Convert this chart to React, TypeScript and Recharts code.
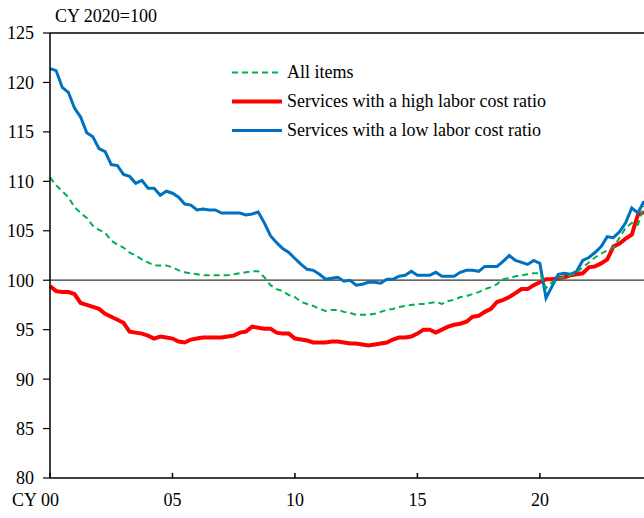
import { LineChart, Line, XAxis, YAxis, ReferenceLine, Legend } from 'recharts';

// quarterly, 2000Q1 .. 2024Q2, CY 2020 = 100
const allItems = [
  110.4, 109.6, 109.0, 108.4, 107.4, 106.8, 106.3, 105.5, 105.1, 104.8,
  104.0, 103.6, 103.3, 102.8, 102.5, 102.1, 101.8, 101.5, 101.5, 101.5,
  101.3, 101.0, 100.8, 100.7, 100.6, 100.5, 100.5, 100.5, 100.5, 100.5,
  100.6, 100.7, 100.8, 100.9, 100.9, 100.3, 99.5, 99.1, 98.9, 98.5,
  98.3, 97.8, 97.6, 97.4, 97.1, 96.9, 97.0, 97.0, 96.8, 96.7,
  96.5, 96.5, 96.5, 96.6, 96.8, 97.0, 97.1, 97.3, 97.4, 97.5,
  97.6, 97.6, 97.7, 97.8, 97.6, 97.9, 98.0, 98.3, 98.4, 98.6,
  98.8, 99.1, 99.3, 99.6, 100.1, 100.2, 100.4, 100.5, 100.6, 100.7,
  100.7, 99.2, 99.8, 100.2, 100.3, 100.5, 100.8, 101.3, 101.8, 102.3,
  102.7, 103.0, 103.3, 104.3, 105.3, 105.8, 105.6, 107.5,
];

const highLabor = [
  99.4, 98.9, 98.8, 98.8, 98.6, 97.7, 97.5, 97.3, 97.1, 96.6,
  96.3, 96.0, 95.7, 94.8, 94.7, 94.6, 94.4, 94.1, 94.3, 94.2,
  94.1, 93.8, 93.7, 94.0, 94.1, 94.2, 94.2, 94.2, 94.2, 94.3,
  94.4, 94.7, 94.8, 95.3, 95.2, 95.1, 95.1, 94.7, 94.6, 94.6,
  94.1, 94.0, 93.9, 93.7, 93.7, 93.7, 93.8, 93.8, 93.7, 93.6,
  93.6, 93.5, 93.4, 93.5, 93.6, 93.7, 94.0, 94.2, 94.2, 94.3,
  94.6, 95.0, 95.0, 94.7, 95.0, 95.3, 95.5, 95.6, 95.8, 96.3,
  96.4, 96.8, 97.1, 97.8, 98.0, 98.3, 98.7, 99.1, 99.1, 99.5,
  99.8, 100.1, 100.1, 100.2, 100.3, 100.5, 100.6, 100.7, 101.3, 101.4,
  101.7, 102.1, 103.4, 103.7, 104.2, 104.6, 106.6, 106.9,
];

const lowLabor = [
  121.4, 121.2, 119.5, 119.0, 117.4, 116.5, 114.9, 114.5, 113.3, 113.0,
  111.7, 111.6, 110.7, 110.5, 109.8, 110.1, 109.3, 109.3, 108.6, 109.0,
  108.8, 108.4, 107.7, 107.6, 107.1, 107.2, 107.1, 107.1, 106.8, 106.8,
  106.8, 106.8, 106.6, 106.7, 106.9, 105.8, 104.5, 103.8, 103.2, 102.8,
  102.2, 101.6, 101.1, 101.0, 100.6, 100.1, 100.2, 100.3, 99.9, 100.0,
  99.5, 99.6, 99.8, 99.8, 99.7, 100.1, 100.1, 100.4, 100.5, 100.9,
  100.5, 100.5, 100.5, 100.8, 100.4, 100.4, 100.4, 100.8, 101.0, 101.0,
  100.9, 101.4, 101.4, 101.4, 101.9, 102.5, 102.0, 101.8, 101.6, 102.0,
  101.7, 98.2, 99.4, 100.6, 100.7, 100.6, 100.9, 102.0, 102.3, 102.8,
  103.4, 104.4, 104.3, 104.9, 105.8, 107.3, 106.8, 108.0,
];

const xTicks = [0, 20, 40, 60, 80];
const xTickLabels = ['00', '05', '10', '15', '20'];
const yTicks = [80, 85, 90, 95, 100, 105, 110, 115, 120, 125];

const seriesNames = {
  all: 'All items',
  high: 'Services with a high labor cost ratio',
  low: 'Services with a low labor cost ratio',
};
const legendOrder = ['all', 'high', 'low'];

const data = allItems.map((v, i) => ({
  i,
  all: v,
  high: highLabor[i],
  low: lowLabor[i],
}));

const FONT = "'Liberation Serif', 'Times New Roman', serif";

function XTick({ x, y, payload }: any) {
  const label = xTickLabels[xTicks.indexOf(payload.value)];
  return (
    <g>
      <line x1={x} x2={x} y1={y} y2={y - 5} stroke="#000" strokeWidth={1.5} />
      {payload.value === 0 && (
        <text x={x - 13} y={y + 28} textAnchor="end" fontSize={18} fontFamily={FONT} fill="#000">
          CY
        </text>
      )}
      <text x={x} y={y + 28} textAnchor="middle" fontSize={18} fontFamily={FONT} fill="#000">
        {label}
      </text>
    </g>
  );
}

function LegendBox({ payload }: any) {
  const items = legendOrder
    .map((k) => (payload || []).find((p: any) => p.dataKey === k))
    .filter(Boolean);
  return (
    <div style={{ fontFamily: FONT, fontSize: 18, color: '#000' }}>
      {items.map((p: any) => (
        <div key={p.dataKey} style={{ display: 'flex', alignItems: 'center', height: 29 }}>
          <svg width={50} height={29}>
            <line
              x1={0}
              x2={50}
              y1={14.5}
              y2={14.5}
              stroke={p.color}
              strokeWidth={p.payload.strokeWidth}
              strokeDasharray={p.payload.strokeDasharray}
            />
          </svg>
          <span style={{ marginLeft: 5, whiteSpace: 'nowrap' }}>{p.value}</span>
        </div>
      ))}
    </div>
  );
}

export default function App() {
  return (
    <div style={{ position: 'absolute', left: 0, top: 0, width: 644, height: 518, background: '#fff' }}>
      <div
        style={{
          position: 'absolute',
          left: 55,
          top: 5,
          fontFamily: FONT,
          fontSize: 18,
          color: '#000',
          lineHeight: '22px',
        }}
      >
        CY 2020=100
      </div>
      <LineChart width={644} height={518} data={data} margin={{ top: 33, right: 0, left: 0, bottom: 0 }}>
        <XAxis
          type="number"
          dataKey="i"
          domain={[0, 97]}
          ticks={xTicks}
          interval={0}
          height={40}
          tickSize={0}
          tickMargin={0}
          axisLine={{ stroke: '#000', strokeWidth: 1.5 }}
          tick={<XTick />}
        />
        <YAxis
          domain={[80, 125]}
          ticks={yTicks}
          interval={0}
          width={50}
          tickSize={7}
          tickMargin={9}
          allowDataOverflow
          axisLine={{ stroke: '#000', strokeWidth: 1.5 }}
          tickLine={{ stroke: '#000', strokeWidth: 1.2 }}
          tick={{ fill: '#000', fontSize: 18, fontFamily: FONT }}
        />
        <ReferenceLine y={125} stroke="#000" strokeWidth={1.5} />
        <ReferenceLine y={100} stroke="#333" strokeWidth={1.2} />
        <Line
          dataKey="high"
          name={seriesNames.high}
          stroke="#FF0000"
          strokeWidth={4}
          dot={false}
          type="linear"
          isAnimationActive={false}
        />
        <Line
          dataKey="low"
          name={seriesNames.low}
          stroke="#0070C0"
          strokeWidth={3}
          dot={false}
          type="linear"
          isAnimationActive={false}
        />
        <Line
          dataKey="all"
          name={seriesNames.all}
          stroke="#00B050"
          strokeWidth={2}
          strokeDasharray="6 4"
          dot={false}
          type="linear"
          isAnimationActive={false}
        />
        <Legend
          layout="vertical"
          align="center"
          verticalAlign="middle"
          content={<LegendBox />}
          wrapperStyle={{ position: 'absolute', left: 232, top: 58, width: 'auto', height: 'auto' }}
        />
      </LineChart>
    </div>
  );
}
